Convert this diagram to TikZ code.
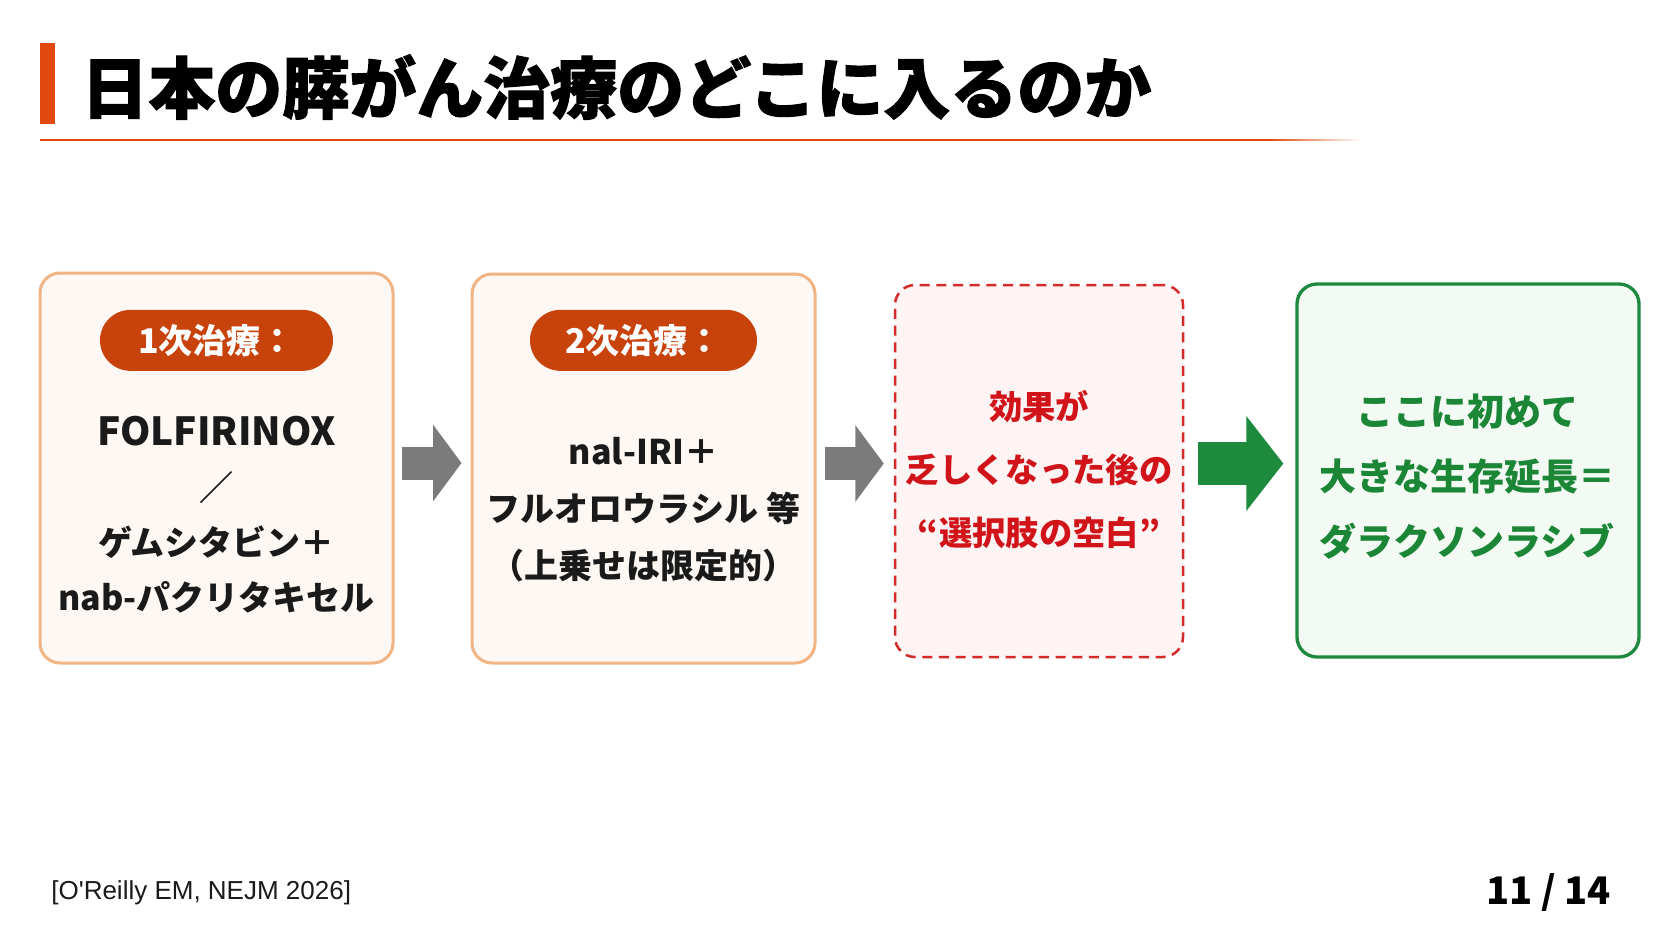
\documentclass[tikz,border=0pt]{standalone}
\usepackage{fontspec}
\setmainfont{Noto Sans CJK JP}
\newfontfamily\titlefont{Noto Sans CJK JP}[BoldFeatures={FakeBold=1.5}]
\newfontfamily\reffont{Liberation Sans}
\usetikzlibrary{arrows.meta}
\usetikzlibrary{positioning}
\usetikzlibrary{shapes.misc}

\definecolor{titlered}{HTML}{E0480E}
\definecolor{badgered}{HTML}{C8420C}
\definecolor{cardline}{HTML}{F0B485}
\definecolor{cardfill}{HTML}{FDF8F3}
\definecolor{gapred}{HTML}{D42A2A}
\definecolor{gapfill}{HTML}{FFF4F4}
\definecolor{gaptext}{HTML}{D0141A}
\definecolor{okgreen}{HTML}{1E8A3E}
\definecolor{okfill}{HTML}{F3FAF4}
\definecolor{oktext}{HTML}{1A8636}
\definecolor{arrowgray}{HTML}{7B7B7B}
\definecolor{inkblack}{HTML}{1A1A1A}

\begin{document}
\begin{tikzpicture}[x=0.6pt, y=-0.6pt,
    card/.style={draw=cardline, fill=cardfill, line width=1.8pt, rounded corners=12pt, inner sep=0pt},
    badge/.style={rounded rectangle, fill=badgered, text=white, inner sep=0pt, minimum height=36.6pt, font=\bfseries\fontsize{20.4}{24}\selectfont},
    bodytext/.style={align=center, text=inkblack, inner sep=0pt, font=\bfseries\fontsize{20.4}{33}\selectfont},
    grayarrow/.style={arrowgray, line width=19.8pt, -{Triangle[length=17pt, width=45pt]}}
  ]
      \useasboundingbox[fill=white] (0,0) rectangle (1672,941);

      % title
      \fill[titlered] (40,43) rectangle (55,124);
      \node[anchor=west, inner sep=0pt, text=black, font=\titlefont\bfseries\fontsize{40.2}{44}\selectfont] (title) at (81,87) {日本の膵がん治療のどこに入るのか};
      \draw[titlered, line width=1.5pt] (40,140) -- (1268,140);
      \foreach \i in {0,...,19}
        \draw[titlered!\the\numexpr100-5*\i\relax!white, line width=1.5pt] (1267+4.6*\i,140) -- (1272.5+4.6*\i,140);

      % cards
      \node[card, minimum width=211.8pt, minimum height=234pt] (first) at (216.5,468) {};
      \node[card, minimum width=205.8pt, minimum height=233.4pt] (second) at (643.5,468.5) {};
      \node[draw=gapred, fill=gapfill, dashed, dash pattern=on 6pt off 4pt, line width=1.5pt, rounded corners=12pt, minimum width=172.8pt, minimum height=223.2pt] (gap) at (1039,471) {};
      \node[draw=okgreen, fill=okfill, line width=2pt, rounded corners=12pt, minimum width=205.2pt, minimum height=223.8pt] (dara) at (1468,470.5) {};

      \node[badge, minimum width=139.8pt, below=22.8pt of first.north] (firstbadge) {1次治療：};
      \node[badge, minimum width=136.2pt, below=22.2pt of second.north] (secondbadge) {2次治療：};

      \node[bodytext] (firsttext) at (216.5,514.5) {{\fontsize{23.2}{33}\selectfont FOLFIRINOX}\\／\\ゲムシタビン＋\\nab-パクリタキセル};
      \node[bodytext, font=\bfseries\fontsize{20.4}{34.2}\selectfont] (secondtext) at (643.5,510) {nal-IRI＋\\フルオロウラシル 等\\（上乗せは限定的）};
      \node[align=center, inner sep=0pt, text=gaptext, font=\bfseries\fontsize{20}{37.8}\selectfont] (gaptext) at (1039,470) {効果が\\乏しくなった後の\\“選択肢の空白”};
      \node[align=center, inner sep=0pt, text=oktext, font=\bfseries\fontsize{22.2}{39}\selectfont] (daratext) at (1467,477) {ここに初めて\\大きな生存延長＝\\ダラクソンラシブ};

      % arrows
      \draw[grayarrow, shorten <=4.2pt, shorten >=5.4pt] ([yshift=3pt]first.east) -- ([yshift=3pt]first.east -| second.west);
      \draw[grayarrow, shorten <=4.8pt, shorten >=6pt] ([yshift=3pt]second.east) -- ([yshift=3pt]second.east -| gap.west);
      \draw[okgreen, line width=25.8pt, -{Triangle[length=22.2pt, width=55.8pt]}, shorten <=8.4pt, shorten >=7.2pt] ([yshift=4.5pt]gap.east) -- ([yshift=4.5pt]gap.east -| dara.west);

      % footer
      \node[anchor=west, inner sep=0pt, text=inkblack, font=\reffont\fontsize{15.6}{18}\selectfont] (source) at (51,893) {[O'Reilly EM, NEJM 2026]};
      \node[anchor=east, inner sep=0pt, text=black, font=\bfseries\fontsize{22.8}{26}\selectfont] (pageno) at (1611,893) {11 / 14};
    \end{tikzpicture}
\end{document}
